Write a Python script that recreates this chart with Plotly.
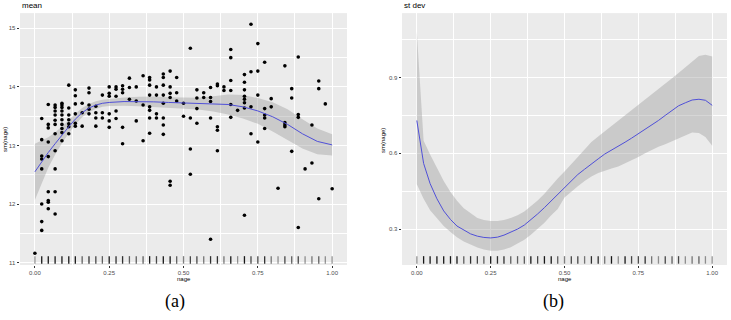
import plotly.graph_objects as go

# ---------------- data ----------------
nage_levels = [0.000, 0.023, 0.045, 0.068, 0.091, 0.114, 0.136, 0.159, 0.182, 0.205,
               0.227, 0.250, 0.273, 0.295, 0.318, 0.341, 0.364, 0.386, 0.409, 0.432,
               0.455, 0.477, 0.500, 0.523, 0.545, 0.568, 0.591, 0.614, 0.636, 0.659,
               0.682, 0.705, 0.727, 0.750, 0.773, 0.795, 0.818, 0.841, 0.864, 0.886,
               0.909, 0.932, 0.955, 0.977, 1.000]

mean_points = [
    [11.16],
    [13.46, 13.10, 12.82, 12.77, 12.60, 12.00, 11.70, 11.55],
    [13.70, 13.36, 13.30, 13.06, 12.81, 12.21, 12.06, 12.03, 11.92],
    [13.69, 13.65, 13.59, 13.52, 13.43, 13.36, 13.20, 12.91, 12.60, 12.21, 11.83],
    [13.72, 13.69, 13.65, 13.59, 13.52, 13.44, 13.36, 13.29, 13.22, 13.08],
    [14.03, 13.64, 13.52, 13.44, 13.37, 13.32, 13.20],
    [13.95, 13.85, 13.71, 13.54, 13.38, 13.33],
    [13.72, 13.56, 13.33],
    [13.98, 13.90, 13.69, 13.62, 13.54],
    [13.67, 13.56, 13.47, 13.33],
    [13.86, 13.56, 13.47],
    [14.00, 13.89, 13.84, 13.54, 13.42, 13.31],
    [14.00, 13.96, 13.84, 13.59, 13.46],
    [14.02, 13.96, 13.90, 13.31, 13.03],
    [14.15, 13.99, 13.79],
    [14.00, 13.76, 13.42],
    [14.19, 13.69, 13.08],
    [14.16, 14.12, 14.03, 13.86, 13.66, 13.60, 13.47, 13.21],
    [14.00, 13.86, 13.54, 13.47],
    [14.22, 14.16, 14.03, 13.86, 13.72, 13.47, 13.35, 13.19],
    [14.27, 14.00, 13.89, 13.82, 12.39, 12.32],
    [14.16, 13.90, 13.76],
    [13.72, 13.50],
    [14.66, 13.47, 12.94, 12.51],
    [13.95, 13.81, 13.63, 13.38],
    [13.90, 13.82],
    [13.99, 13.82, 13.75, 13.47, 11.40],
    [14.05, 14.02, 13.32, 13.26, 12.91],
    [14.00, 13.94],
    [14.64, 14.50, 14.11, 13.94, 13.70, 13.48],
    [13.60],
    [14.21, 14.08, 13.95, 13.84, 13.79, 13.73, 13.64, 11.81],
    [15.07, 14.26, 13.66, 13.20],
    [14.74, 14.27, 13.86, 13.06],
    [14.42, 13.63, 13.52, 13.47, 13.29],
    [13.80, 13.66],
    [12.27],
    [14.36, 13.39, 13.35, 13.32],
    [13.97, 13.81, 12.90],
    [14.51, 13.53, 13.48, 11.60],
    [12.60],
    [13.35, 12.70],
    [14.10, 13.97, 12.09],
    [13.71],
    [12.26],
]

# smooth of the mean (panel a)
smooth_x_a = [0.000, 0.023, 0.045, 0.068, 0.091, 0.114, 0.136, 0.159, 0.182, 0.205, 0.227,
              0.250, 0.300, 0.350, 0.400, 0.450, 0.500, 0.550, 0.600, 0.650, 0.700, 0.750,
              0.800, 0.850, 0.900, 0.950, 1.000]
smooth_fit_a = [12.55, 12.72, 12.88, 13.03, 13.18, 13.32, 13.45, 13.56, 13.64, 13.69, 13.72,
                13.735, 13.75, 13.75, 13.745, 13.735, 13.725, 13.715, 13.71, 13.70, 13.66, 13.59,
                13.49, 13.36, 13.20, 13.07, 13.01]
smooth_hi_a = [13.03, 13.08, 13.14, 13.22, 13.32, 13.43, 13.54, 13.64, 13.71, 13.755, 13.78,
               13.795, 13.82, 13.83, 13.835, 13.825, 13.815, 13.815, 13.84, 13.87, 13.86, 13.81,
               13.74, 13.62, 13.45, 13.29, 13.19]
smooth_lo_a = [12.07, 12.36, 12.62, 12.84, 13.04, 13.21, 13.36, 13.48, 13.57, 13.625, 13.66,
               13.675, 13.68, 13.67, 13.655, 13.645, 13.635, 13.615, 13.58, 13.53, 13.46, 13.37,
               13.24, 13.10, 12.95, 12.85, 12.83]

# smooth of the standard deviation (panel b)
sd_fit_b = [0.730, 0.560, 0.480, 0.420, 0.372, 0.338, 0.312, 0.295, 0.281, 0.272,
            0.267, 0.265, 0.268, 0.276, 0.287, 0.300, 0.316, 0.336, 0.360, 0.385,
            0.412, 0.440, 0.466, 0.492, 0.516, 0.537, 0.556, 0.578, 0.597, 0.612,
            0.628, 0.644, 0.660, 0.677, 0.694, 0.712, 0.730, 0.750, 0.770, 0.788,
            0.800, 0.811, 0.814, 0.810, 0.790]
sd_hi_b = [1.080, 0.650, 0.595, 0.540, 0.490, 0.447, 0.412, 0.383, 0.362, 0.344,
           0.336, 0.332, 0.332, 0.336, 0.344, 0.355, 0.370, 0.390, 0.413, 0.440,
           0.473, 0.500, 0.528, 0.555, 0.585, 0.615, 0.645, 0.667, 0.687, 0.708,
           0.730, 0.750, 0.771, 0.792, 0.813, 0.834, 0.855, 0.876, 0.897, 0.918,
           0.940, 0.962, 0.985, 0.990, 0.983]
sd_lo_b = [0.478, 0.420, 0.375, 0.342, 0.312, 0.288, 0.268, 0.251, 0.238, 0.227,
           0.219, 0.214, 0.214, 0.219, 0.228, 0.242, 0.258, 0.278, 0.300, 0.325,
           0.355, 0.380, 0.425, 0.450, 0.470, 0.490, 0.508, 0.522, 0.532, 0.540,
           0.548, 0.560, 0.572, 0.585, 0.600, 0.614, 0.626, 0.636, 0.648, 0.660,
           0.672, 0.682, 0.680, 0.665, 0.630]

x_ticks = [0.00, 0.25, 0.50, 0.75, 1.00]
x_tick_text = ["0.00", "0.25", "0.50", "0.75", "1.00"]
y_ticks_a = [11, 12, 13, 14, 15]
y_ticks_b = [0.3, 0.6, 0.9]
y_tick_text_b = ["0.3", "0.6", "0.9"]

# ---------------- figure ----------------
pts_x = [lv for lv, ys in zip(nage_levels, mean_points) for _ in ys]
pts_y = [y for ys in mean_points for y in ys]

BAND = "rgba(153,153,153,0.4)"
LINE = "#5050D8"
NOLINE = dict(width=0, color="rgba(0,0,0,0)")
FONT = "Liberation Sans"

fig = go.Figure()

# panel a
fig.add_trace(go.Scatter(x=smooth_x_a, y=smooth_lo_a, mode="lines", line=NOLINE,
                         hoverinfo="skip", showlegend=False, xaxis="x", yaxis="y"))
fig.add_trace(go.Scatter(x=smooth_x_a, y=smooth_hi_a, mode="lines", line=NOLINE,
                         fill="tonexty", fillcolor=BAND, hoverinfo="skip", showlegend=False,
                         xaxis="x", yaxis="y"))
fig.add_trace(go.Scatter(x=pts_x, y=pts_y, mode="markers",
                         marker=dict(size=3.6, color="black", line=dict(width=0)),
                         showlegend=False, xaxis="x", yaxis="y"))
fig.add_trace(go.Scatter(x=smooth_x_a, y=smooth_fit_a, mode="lines",
                         line=dict(color=LINE, width=1), showlegend=False,
                         xaxis="x", yaxis="y"))

# panel b
fig.add_trace(go.Scatter(x=nage_levels, y=sd_lo_b, mode="lines", line=NOLINE,
                         hoverinfo="skip", showlegend=False, xaxis="x2", yaxis="y2"))
fig.add_trace(go.Scatter(x=nage_levels, y=sd_hi_b, mode="lines", line=NOLINE,
                         fill="tonexty", fillcolor=BAND, hoverinfo="skip", showlegend=False,
                         xaxis="x2", yaxis="y2"))
fig.add_trace(go.Scatter(x=nage_levels, y=sd_fit_b, mode="lines",
                         line=dict(color=LINE, width=1), showlegend=False,
                         xaxis="x2", yaxis="y2"))

# rugs
shapes = []
for lv, ys in zip(nage_levels, mean_points):
    a = min(0.9, 0.3 + 0.1 * len(ys))
    for xr, yr in (("x", "y domain"), ("x2", "y2 domain")):
        shapes.append(dict(type="line", xref=xr, yref=yr, x0=lv, x1=lv, y0=0.005, y1=0.035,
                           line=dict(color=f"rgba(0,0,0,{a:.2f})", width=1.3)))

def xaxis(domain, anchor):
    return dict(domain=domain, anchor=anchor, range=[-0.05, 1.05], tickvals=x_ticks,
                ticktext=x_tick_text, showgrid=True, gridcolor="white", gridwidth=1,
                zeroline=False, showline=False, ticks="outside", ticklen=2,
                tickcolor="#333333", tickwidth=0.6,
                tickfont=dict(family=FONT, size=6, color="#4D4D4D"),
                minor=dict(dtick=0.125, tick0=0, showgrid=True, gridcolor="white", gridwidth=0.5))

def yaxis(domain, anchor, rng, tv, tt, mdt):
    return dict(domain=domain, anchor=anchor, range=rng, tickvals=tv, ticktext=tt,
                showgrid=True, gridcolor="white", gridwidth=1, zeroline=False, showline=False,
                ticks="outside", ticklen=2.5, tickcolor="#333333", tickwidth=0.6,
                tickfont=dict(family=FONT, size=6, color="#4D4D4D"),
                minor=dict(dtick=mdt, tick0=0, showgrid=True, gridcolor="white", gridwidth=0.5))

ydom = [0.172, 0.959]
fig.update_layout(
    width=731, height=320, margin=dict(l=0, r=0, t=0, b=0),
    paper_bgcolor="white", plot_bgcolor="#EBEBEB", showlegend=False,
    xaxis=xaxis([0.0274, 0.4747], "y"),
    yaxis=yaxis(ydom, "x", [10.96, 15.26], y_ticks_a, [str(v) for v in y_ticks_a], 0.5),
    xaxis2=xaxis([0.550, 0.9945], "y2"),
    yaxis2=yaxis(ydom, "x2", [0.158, 1.155], y_ticks_b, y_tick_text_b, 0.15),
    shapes=shapes,
)

ann = [
    dict(text="mean", x=0.0274, y=0.984, xanchor="left", yanchor="middle", size=8),
    dict(text="st dev", x=0.550, y=0.984, xanchor="left", yanchor="middle", size=8),
    dict(text="nage", x=(0.0274 + 0.4747) / 2, y=1 - 279 / 320, xanchor="center", yanchor="middle", size=6),
    dict(text="nage", x=(0.550 + 0.9945) / 2, y=1 - 279 / 320, xanchor="center", yanchor="middle", size=6),
]
for a in ann:
    fig.add_annotation(text=a["text"], xref="paper", yref="paper", x=a["x"], y=a["y"],
                       xanchor=a["xanchor"], yanchor=a["yanchor"], showarrow=False,
                       font=dict(family=FONT, size=a["size"], color="black"))
for txt, xp in (("sm(nage)", 5 / 731), ("sm(nage)", 383 / 731)):
    fig.add_annotation(text=txt, xref="paper", yref="paper", x=xp, y=(1 - 140 / 320),
                       xanchor="center", yanchor="middle", textangle=-90, showarrow=False,
                       font=dict(family=FONT, size=6, color="black"))
for txt, xp in (("(a)", 175 / 731), ("(b)", 553 / 731)):
    fig.add_annotation(text=txt, xref="paper", yref="paper", x=xp, y=1 - 301 / 320,
                       xanchor="center", yanchor="middle", showarrow=False,
                       font=dict(family="Liberation Serif", size=18, color="black"))

fig.write_html("out.html")
